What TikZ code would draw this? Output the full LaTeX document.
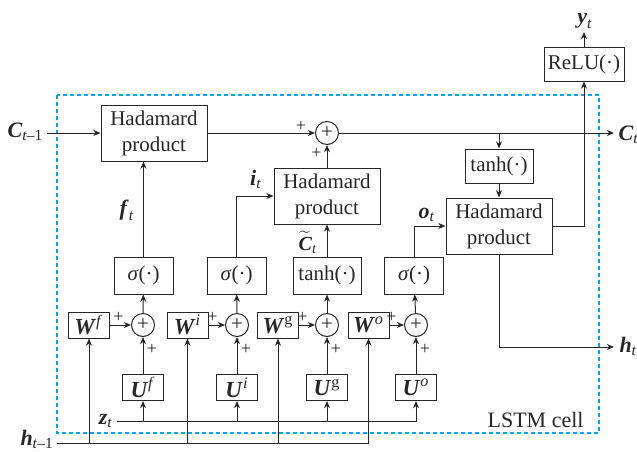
\documentclass[tikz,border=0pt]{standalone}
\usepackage{amsmath}
\usepackage{fontspec}
\setmainfont{Liberation Serif}
\usetikzlibrary{positioning,arrows.meta}
\definecolor{cellblue}{RGB}{0,165,235}
\newcommand{\vb}[1]{\textbf{\textit{#1}}}
\newcommand{\tsub}{\text{\textit{t}}}

\begin{document}
\begin{tikzpicture}[x=0.5pt,y=-0.5pt,>={Stealth[length=3.6pt,width=3pt]},
  line width=0.5pt,color=black!85,font=\fontsize{10.5}{12}\selectfont,
  hada node/.style={draw,minimum width=53pt,minimum height=28pt,inner sep=0pt,
    align=center,font=\fontsize{10.5}{13}\selectfont},
  act node/.style={draw,minimum width=29.5pt,minimum height=18.5pt,inner sep=0pt},
  weight node/.style={draw,minimum width=20.5pt,minimum height=13pt,inner sep=0pt,
    font=\fontsize{11.5}{12}\selectfont},
  sum node/.style={circle,draw,minimum size=11.5pt,inner sep=0pt},
  sign node/.style={inner sep=0pt,font=\fontsize{9}{9}\selectfont},
  var node/.style={inner sep=0pt,font=\fontsize{11}{12}\selectfont}]

  \useasboundingbox (0,0) rectangle (637,451);
  \draw[cellblue,line width=0.55pt,dash pattern=on 2pt off 1.5pt] (57,95) rectangle (599,433);

  % cell state path
  \node[hada node] (had1) at (154,133) {Hadamard\\product};
  \node[sum node] (add) at (327,133) {+};
  \node[hada node] (had2) at (327,196) {Hadamard\\product};
  \node[act node,minimum width=34pt,minimum height=17pt] (tanhc) at (499,166) {tanh(·)};
  \node[hada node] (had3) at (499,226) {Hadamard\\product};
  \node[act node,minimum width=40pt,minimum height=17pt] (relu) at (584,64) {ReLU(·)};

  % gates
  \node[act node] (sf) at (143.5,275.5) {\textit{σ}(·)};
  \node[act node] (si) at (236.5,275.5) {\textit{σ}(·)};
  \node[act node,minimum width=34pt] (tg) at (327,275.5) {tanh(·)};
  \node[act node] (so) at (414,275.5) {\textit{σ}(·)};

  \node[sum node] (pf) at (143,325) {+};
  \node[sum node] (pi) at (237,325) {+};
  \node[sum node] (pg) at (327,325) {+};
  \node[sum node] (po) at (416,325) {+};

  \node[weight node] (wf) at (89,325) {$\vb{W}^{\text{\textit{f}}}$};
  \node[weight node] (wi) at (187.5,325) {$\vb{W}^{\text{\textit{i}}}$};
  \node[weight node] (wg) at (278,325) {$\vb{W}^{\text{g}}$};
  \node[weight node] (wo) at (368.5,325) {$\vb{W}^{\text{\textit{o}}}$};

  \node[weight node] (uf) at (143,387.5) {$\vb{U}^{\text{\textit{f}}}$};
  \node[weight node] (ui) at (237,387.5) {$\vb{U}^{\text{\textit{i}}}$};
  \node[weight node] (ug) at (327,387.5) {$\vb{U}^{\text{g}}$};
  \node[weight node] (uo) at (416,387.5) {$\vb{U}^{\text{\textit{o}}}$};

  % signs at the adders
  \node[sign node] at ([shift={(-26,-7)}]add) {+};
  \node[sign node] at ([shift={(-10.5,20.5)}]add) {+};
  \node[sign node] at ([shift={(-24.5,-8)}]pf) {+};
  \node[sign node] at ([shift={(9,24.5)}]pf) {+};
  \node[sign node] at ([shift={(-24.5,-8)}]pi) {+};
  \node[sign node] at ([shift={(9,24.5)}]pi) {+};
  \node[sign node] at ([shift={(-24.5,-8)}]pg) {+};
  \node[sign node] at ([shift={(9,24.5)}]pg) {+};
  \node[sign node] at ([shift={(-24.5,-8)}]po) {+};
  \node[sign node] at ([shift={(9,24.5)}]po) {+};

  % inputs and outputs
  \node[var node,anchor=base west] (cin) at (7,137) {$\vb{C}_{\text{\textit{t}–1}}$};
  \node[var node,anchor=base west] (cout) at (618,140) {$\vb{C}_{\tsub}$};
  \node[var node,anchor=base] (yout) at (585,23) {$\vb{y}_{\tsub}$};
  \node[var node,anchor=base west] (hout) at (619,352) {$\vb{h}_{\tsub}$};
  \node[var node,anchor=base west] (hin) at (20,445) {$\vb{h}_{\text{\textit{t}–1}}$};
  \node[var node,anchor=base] (zin) at (106,424) {$\vb{z}_{\tsub}$};
  \coordinate (cs) at (47,133);
  \coordinate (ce) at (614,133);
  \coordinate (ye) at (584,32);
  \coordinate (he) at (614,347);
  \coordinate (hs) at (57,443);
  \coordinate (zs) at (117,421);

  \node[var node,anchor=base] at (127,215) {$\vb{f}_{\tsub}$};
  \node[var node,anchor=base] at (256,185) {$\vb{i}_{\tsub}$};
  \node[var node,anchor=base,font=\fontsize{10}{10}\selectfont] at (308,250) {$\widetilde{\vb{C}}_{\tsub}$};
  \node[var node,anchor=base] at (427,218) {$\vb{o}_{\tsub}$};
  \node[inner sep=0pt,anchor=base east,font=\fontsize{11}{11}\selectfont] at (584,427) {LSTM cell};

  \draw[->] (cs) -- (had1);
  \draw[->] (had1) -- (add);
  \draw[->] (add) -- (ce);
  \draw[->] (had2) -- (add);
  \draw[->] (add -| tanhc) -- (tanhc);
  \draw[->] (tanhc) -- (had3);
  \draw[->] (had3.east) -| (relu.south);
  \draw[->] (relu) -- (ye);
  \draw[->] (had3.south) |- (he);

  \draw[->] (sf) -- (sf |- had1.south);
  \draw[->] (si.north) |- (had2.west);
  \draw[->] (tg) -- (had2);
  \draw[->] (so.north) |- (had3.west);

  \path[->]
    (pf) edge (sf) (pi) edge (si) (pg) edge (tg) (po) edge (so)
    (wf) edge (pf) (wi) edge (pi) (wg) edge (pg) (wo) edge (po)
    (uf) edge (pf) (ui) edge (pi) (ug) edge (pg) (uo) edge (po);

  \draw[->] (zs) -| (uo);
  \draw[->] (zs -| uf) -- (uf);
  \draw[->] (zs -| ui) -- (ui);
  \draw[->] (zs -| ug) -- (ug);

  \draw[->] (hs) -| (wo);
  \draw[->] (hs -| wf) -- (wf);
  \draw[->] (hs -| wi) -- (wi);
  \draw[->] (hs -| wg) -- (wg);
\end{tikzpicture}
\end{document}
